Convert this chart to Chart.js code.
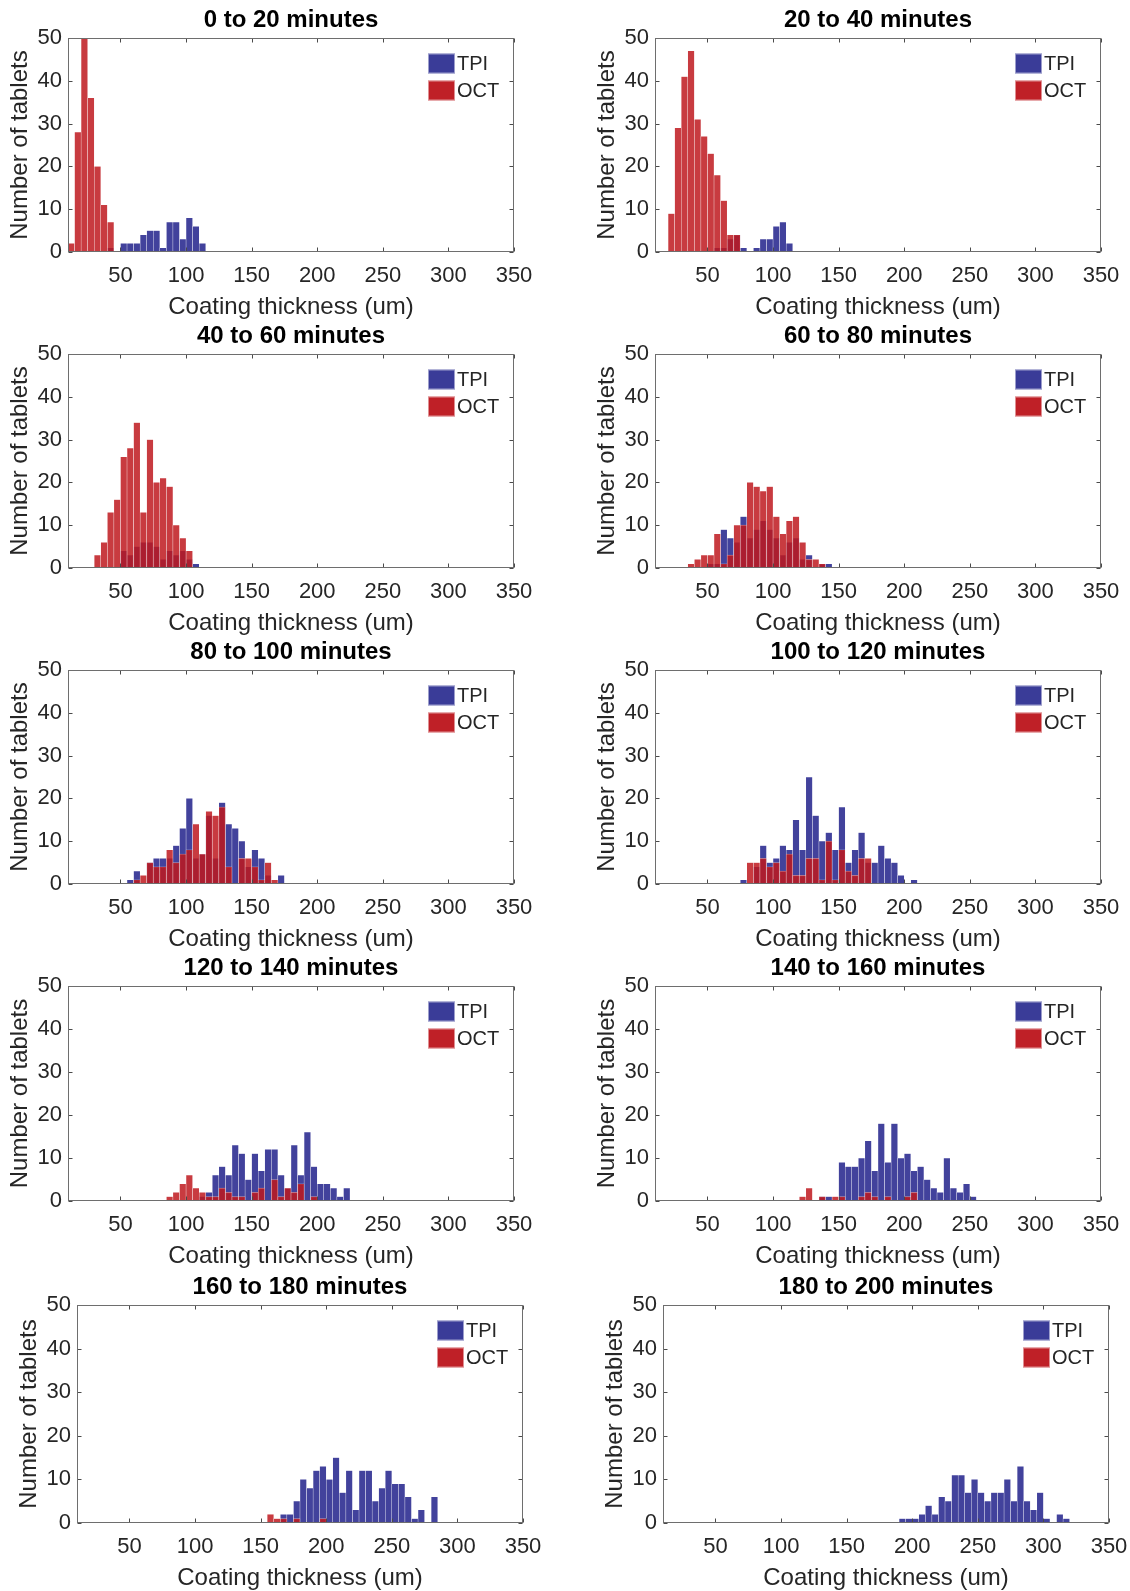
<!DOCTYPE html>
<html>
<head>
<meta charset="utf-8">
<script src="https://cdn.jsdelivr.net/npm/chart.js@4.4.1/dist/chart.umd.min.js"></script>
<style>
  html, body { margin: 0; padding: 0; background: #fff; overflow: hidden; }
  body { width: 1130px; height: 1591px; position: relative; }
  .panel { position: absolute; }
</style>
</head>
<body>
<script>
const titles = [
  '0 to 20 minutes', '20 to 40 minutes', '40 to 60 minutes', '60 to 80 minutes',
  '80 to 100 minutes', '100 to 120 minutes', '120 to 140 minutes', '140 to 160 minutes',
  '160 to 180 minutes', '180 to 200 minutes'
];
const binWidth = 5;

// first bin edge (um) of each histogram, then the counts per 5 um bin
const tpiStart = [40, 55, 50, 50, 55, 75, 110, 135, 165, 190];
const tpiCounts = [
  [1, 0, 2, 2, 2, 4, 5, 5, 1, 7, 7, 3, 8, 6, 2],
  [1, 1, 3, 4, 1, 0, 1, 3, 3, 6, 7, 2],
  [4, 3, 5, 6, 6, 5, 2, 4, 3, 4, 2, 1],
  [1, 1, 9, 7, 6, 12, 7, 9, 11, 9, 7, 3, 6, 7, 2, 3, 0, 1, 1],
  [1, 3, 0, 5, 6, 6, 6, 9, 13, 20, 6, 7, 16, 6, 19, 14, 13, 10, 4, 8, 6, 2, 0, 2],
  [1, 0, 4, 9, 5, 6, 9, 8, 15, 8, 25, 16, 10, 12, 8, 18, 5, 8, 12, 5, 5, 9, 6, 5, 2, 0, 1],
  [1, 2, 6, 8, 6, 13, 11, 5, 11, 7, 12, 12, 6, 3, 13, 6, 16, 8, 4, 4, 3, 1, 3],
  [1, 1, 0, 9, 8, 8, 10, 14, 7, 18, 9, 18, 10, 11, 7, 8, 5, 3, 2, 10, 3, 2, 4, 1],
  [2, 2, 5, 10, 8, 12, 13, 10, 15, 7, 12, 3, 12, 12, 5, 8, 12, 9, 9, 6, 1, 3, 0, 6],
  [1, 1, 1, 2, 4, 2, 6, 5, 11, 11, 7, 10, 7, 5, 7, 7, 10, 5, 13, 5, 3, 7, 1, 0, 2, 1]
];

const octStart = [10, 20, 30, 35, 60, 80, 85, 120, 155, 0];
const octCounts = [
  [2, 28, 50, 36, 20, 11, 7],
  [9, 29, 41, 47, 31, 27, 23, 18, 12, 4, 4],
  [3, 6, 13, 16, 26, 28, 34, 13, 30, 20, 21, 19, 10, 7, 4],
  [1, 2, 3, 3, 8, 1, 3, 10, 10, 20, 19, 18, 19, 12, 8, 11, 12, 6, 2, 2, 1],
  [1, 2, 5, 4, 4, 8, 5, 7, 8, 14, 7, 17, 16, 18, 4, 0, 6, 6, 4, 1, 5, 1],
  [5, 5, 6, 4, 5, 3, 7, 2, 2, 6, 6, 1, 10, 1, 8, 3, 2, 6, 6],
  [1, 2, 4, 6, 3, 2, 1, 1, 3, 2, 1, 1, 0, 2, 3, 0, 5, 1, 3, 2, 4, 0, 1],
  [1, 3, 0, 1, 0, 1, 1, 0, 0, 1, 2, 1, 0, 1, 0, 0, 1, 2],
  [2, 1, 1, 0, 1, 0, 0, 0, 1],
  []
];

const xTicks = [50, 100, 150, 200, 250, 300, 350];
const yTicks = [0, 10, 20, 30, 40, 50];

// plot area of every panel on the page: left, top, width, height
const plotBoxes = [
  [68, 38, 446, 214], [655, 38, 446, 214],
  [68, 354, 446, 214], [655, 354, 446, 214],
  [68, 670, 446, 214], [655, 670, 446, 214],
  [68, 986, 446, 215], [655, 986, 446, 215],
  [77, 1305, 446, 218], [663, 1305, 446, 218]
];

const FONT = 'Liberation Sans, Arial, Helvetica, sans-serif';
const TEXT = '#262626';
Chart.defaults.font.family = FONT;
Chart.defaults.color = TEXT;

const legendColors = { TPI: '#3a3c98', OCT: '#bf2027' };

const boxPlugin = {
  id: 'matlabBox',
  afterDatasetsDraw(chart) {
    const { ctx, chartArea: a, scales: { x, y } } = chart;
    const l = Math.round(a.left) + 0.5, r = Math.round(a.right) - 0.5;
    const t = Math.round(a.top) + 0.5, b = Math.round(a.bottom) - 0.5;
    ctx.save();
    ctx.strokeStyle = '#4a4a4a';
    ctx.lineWidth = 1;
    ctx.beginPath();
    xTicks.forEach(v => {
      const px = Math.round(x.getPixelForValue(v)) + 0.5;
      ctx.moveTo(px, b); ctx.lineTo(px, b - 4);
      ctx.moveTo(px, t); ctx.lineTo(px, t + 4);
    });
    yTicks.forEach(v => {
      const py = Math.round(y.getPixelForValue(v)) + 0.5;
      ctx.moveTo(l, py); ctx.lineTo(l + 4, py);
      ctx.moveTo(r, py); ctx.lineTo(r - 4, py);
    });
    ctx.stroke();
    ctx.strokeStyle = '#6e6e6e';
    ctx.strokeRect(l, t, r - l, b - t);
    ctx.restore();
  },
  afterDraw(chart) {
    const { ctx, chartArea: a } = chart;
    ctx.save();
    ctx.font = '20px ' + FONT;
    ctx.textBaseline = 'middle';
    chart.data.datasets.forEach((ds, i) => {
      const sx = a.right - 86, sy = a.top + 15.5 + i * 27;
      ctx.fillStyle = legendColors[ds.label];
      ctx.fillRect(sx, sy, 27, 20);
      ctx.strokeStyle = 'rgba(255,255,255,0.5)';
      ctx.strokeRect(sx + 0.5, sy + 0.5, 26, 19);
      ctx.fillStyle = TEXT;
      ctx.fillText(ds.label, a.right - 57, sy + 11);
    });
    ctx.restore();
  }
};

function bins(start, counts) {
  return counts.map((c, i) => ({ x: start + binWidth * i + binWidth / 2, y: c }));
}

titles.forEach((title, k) => {
  const [L, T, W, H] = plotBoxes[k];
  const div = document.createElement('div');
  div.className = 'panel';
  div.style.left = (L - 75) + 'px';
  div.style.top = (T - 38) + 'px';
  div.style.width = (75 + W + 22) + 'px';
  div.style.height = (38 + H + 80) + 'px';
  const canvas = document.createElement('canvas');
  div.appendChild(canvas);
  document.body.appendChild(div);

  new Chart(canvas, {
    type: 'bar',
    data: {
      datasets: [
        {
          label: 'TPI',
          data: bins(tpiStart[k], tpiCounts[k]),
          backgroundColor: 'rgba(45,45,145,0.9)',
          borderColor: 'rgba(255,255,255,0.6)',
          borderWidth: 0.5,
          order: 1
        },
        {
          label: 'OCT',
          data: bins(octStart[k], octCounts[k]),
          backgroundColor: 'rgba(190,25,30,0.85)',
          borderColor: 'rgba(255,255,255,0.6)',
          borderWidth: 0.5,
          order: 0
        }
      ]
    },
    options: {
      responsive: true,
      maintainAspectRatio: false,
      animation: false,
      layout: { padding: { left: 0, top: 0, right: 22, bottom: 0 } },
      datasets: { bar: { grouped: false, barPercentage: 1, categoryPercentage: 1 } },
      plugins: {
        legend: { display: false },
        tooltip: { enabled: false },
        title: {
          display: true,
          text: title,
          fullSize: false,
          color: '#000',
          font: { size: 24, weight: 'bold' },
          padding: { top: 6.4, bottom: 2.8 }
        }
      },
      scales: {
        x: {
          type: 'linear',
          min: 10,
          max: 350,
          offset: false,
          afterBuildTicks: s => { s.ticks = xTicks.map(v => ({ value: v })); },
          afterFit: s => { s.height = 80; s.paddingLeft = 0; s.paddingRight = 0; },
          grid: { display: false, drawTicks: false },
          border: { display: false },
          ticks: { font: { size: 22 }, color: TEXT, padding: 11, maxRotation: 0, autoSkip: false },
          title: {
            display: true,
            text: 'Coating thickness (um)',
            font: { size: 24 },
            color: TEXT,
            padding: { top: 0, bottom: 10.6 }
          }
        },
        y: {
          min: 0,
          max: 50,
          afterBuildTicks: s => { s.ticks = yTicks.map(v => ({ value: v })); },
          afterFit: s => { s.width = 75; s.paddingTop = 0; s.paddingBottom = 0; },
          grid: { display: false, drawTicks: false },
          border: { display: false },
          ticks: { font: { size: 22 }, color: TEXT, padding: 6 },
          title: {
            display: true,
            text: 'Number of tablets',
            font: { size: 24 },
            color: TEXT,
            padding: { top: 12.5, bottom: 0 }
          }
        }
      }
    },
    plugins: [boxPlugin]
  });
});
</script>
</body>
</html>
